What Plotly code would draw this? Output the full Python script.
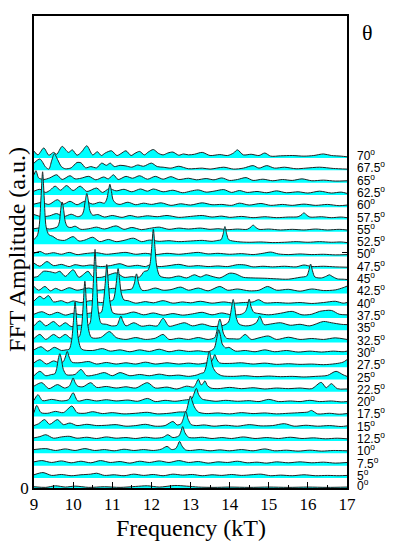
import plotly.graph_objects as go

# angle of each spectrum (deg) and its FFT spectrum as (frequency kT, amplitude a.u.)
angles = [70, 67.5, 65, 62.5, 60, 57.5, 55, 52.5, 50, 47.5, 45, 42.5, 40,
          37.5, 35, 32.5, 30, 27.5, 25, 22.5, 20, 17.5, 15, 12.5, 10, 7.5, 5, 0]

th70 = [(9.0,2.2),(9.1,1.0),(9.25,3.2),(9.38,0.9),(9.5,1.8),(9.58,1.2),(9.72,3.7),(9.88,1.8),(9.98,2.6),(10.1,0.9),
        (10.22,2.0),(10.35,3.9),(10.5,1.0),(10.62,2.0),(10.72,0.8),(10.82,1.6),(10.98,2.3),(11.12,0.8),(11.22,1.4),
        (11.35,2.3),(11.48,0.8),(11.58,1.5),(11.7,2.1),(11.82,1.0),(11.92,1.9),(12.05,2.7),(12.18,1.5),(12.3,1.0),
        (12.42,1.6),(12.55,1.9),(12.7,0.9),(12.82,1.3),(12.95,1.0),(13.1,1.2),(13.3,1.8),(13.5,0.8),(13.75,1.1),
        (13.95,0.8),(14.1,1.6),(14.2,2.6),(14.35,1.0),(14.55,1.2),(14.75,0.8),(14.9,1.6),(15.05,0.6),(15.3,0.7),
        (15.6,0.8),(15.9,0.6),(16.15,0.8),(16.4,1.3),(16.6,0.8),(16.85,0.6),(17.0,0.4)]
th67_5 = [(9.0,2.3),(9.15,3.6),(9.3,1.0),(9.38,0.4),(9.45,3.0),(9.52,5.3),(9.6,3.5),(9.7,1.2),(9.8,0.5),(9.95,0.8),
          (10.1,2.5),(10.2,2.4),(10.32,0.8),(10.45,1.2),(10.6,0.8),(10.73,2.3),(10.85,1.6),(10.95,2.3),(11.05,1.2),
          (11.2,1.6),(11.35,1.4),(11.5,1.0),(11.65,1.7),(11.8,1.3),(12.0,2.3),(12.15,1.2),(12.3,1.0),(12.5,0.7),
          (12.7,1.3),(12.95,0.5),(13.3,0.7),(13.5,0.4),(13.85,1.0),(14.1,0.4),(14.35,0.7),(14.6,1.5),(14.75,0.7),
          (14.95,1.5),(15.15,0.7),(15.4,1.0),(15.7,0.5),(15.95,0.7),(16.3,1.0),(16.65,0.6),(17.0,0.4)]
th65 = [(9.0,2.5),(9.05,3.8),(9.12,1.5),(9.25,1.0),(9.4,1.5),(9.58,2.5),(9.72,1.0),(9.92,2.2),(10.05,1.2),(10.2,1.4),
        (10.4,2.0),(10.58,0.9),(10.78,1.8),(10.9,1.2),(11.03,2.5),(11.15,1.0),(11.35,2.0),(11.52,1.4),(11.7,2.2),
        (11.9,1.1),(12.1,2.0),(12.3,1.1),(12.5,1.9),(12.7,1.0),(12.95,1.4),(13.15,0.9),(13.4,1.3),(13.6,0.9),
        (13.8,1.5),(14.0,0.7),(14.2,1.0),(14.42,1.6),(14.6,0.7),(14.85,1.1),(15.1,0.6),(15.35,1.0),(15.6,0.7),
        (15.85,1.2),(16.1,0.6),(16.4,0.8),(16.7,0.5),(17.0,0.6)]
th62_5 = [(9.0,1.2),(9.15,1.8),(9.3,0.8),(9.42,1.6),(9.54,2.8),(9.68,1.5),(9.83,3.0),(10.0,1.4),(10.18,2.8),(10.35,1.1),
          (10.6,2.2),(10.75,0.8),(10.92,2.0),(11.1,1.3),(11.3,1.8),(11.5,1.0),(11.72,1.9),(11.9,1.2),(12.05,1.9),
          (12.3,1.0),(12.55,1.5),(12.8,0.7),(13.0,1.2),(13.2,1.6),(13.4,0.9),(13.6,1.2),(13.85,1.7),(14.05,0.8),
          (14.25,1.4),(14.45,0.8),(14.7,1.1),(14.95,0.7),(15.2,1.3),(15.45,0.7),(15.75,1.0),(16.0,0.6),(16.3,1.2),
          (16.6,0.6),(16.85,0.9),(17.0,0.5)]
th60 = [(9.0,1.0),(9.2,1.5),(9.38,0.9),(9.6,2.4),(9.75,1.0),(9.92,1.9),(10.1,0.8),(10.3,1.9),(10.5,1.0),(10.68,1.6),
        (10.8,1.3),(10.86,2.6),(10.9,5.0),(10.94,7.3),(10.98,5.0),(11.02,2.4),(11.1,1.2),(11.2,0.9),(11.4,1.6),
        (11.6,0.8),(11.8,1.3),(12.0,0.9),(12.25,1.4),(12.5,0.6),(12.75,1.1),(13.0,0.7),(13.3,1.4),(13.55,0.8),
        (13.8,0.9),(14.05,0.6),(14.25,1.3),(14.5,0.7),(14.8,1.2),(15.05,0.6),(15.35,0.9),(15.6,0.6),(15.9,1.0),
        (16.2,0.6),(16.5,0.9),(16.8,0.5),(17.0,0.7)]
th57_5 = [(9.0,1.6),(9.2,0.9),(9.4,1.2),(9.58,1.9),(9.75,0.9),(9.95,1.7),(10.12,0.9),(10.22,1.4),(10.27,2.8),
          (10.31,6.0),(10.35,8.3),(10.39,6.0),(10.43,2.8),(10.5,1.4),(10.63,1.6),(10.8,0.8),(11.0,1.3),(11.25,0.7),
          (11.45,1.3),(11.65,0.8),(11.9,1.2),(12.15,0.9),(12.4,1.3),(12.7,0.7),(13.0,1.0),(13.3,1.3),(13.55,0.8),
          (13.8,1.1),(14.0,0.7),(14.3,1.0),(14.6,0.6),(14.9,0.9),(15.2,0.6),(15.5,0.8),(15.75,0.9),(15.85,1.6),
          (15.9,2.2),(15.96,1.5),(16.05,0.8),(16.35,0.9),(16.6,0.6),(16.85,0.8),(17.0,0.6)]
th55 = [(9.0,1.0),(9.2,1.3),(9.4,0.9),(9.52,1.2),(9.6,1.6),(9.65,3.2),(9.68,6.8),(9.72,9.5),(9.76,6.8),(9.8,3.2),
        (9.86,1.6),(9.95,1.4),(10.05,1.8),(10.2,0.8),(10.4,1.0),(10.6,1.5),(10.8,0.9),(11.1,1.9),(11.3,0.8),
        (11.5,1.4),(11.75,0.7),(11.95,1.1),(12.2,1.5),(12.45,0.8),(12.7,1.2),(12.95,0.9),(13.25,1.2),(13.5,0.8),
        (13.7,1.0),(13.95,0.7),(14.2,0.9),(14.45,0.8),(14.55,1.6),(14.6,2.2),(14.66,1.5),(14.75,0.8),(15.0,0.9),
        (15.3,0.6),(15.6,0.8),(15.9,0.6),(16.2,0.9),(16.5,0.6),(16.8,0.8),(17.0,0.6)]
th52_5 = [(9.0,1.5),(9.08,2.6),(9.13,5.5),(9.18,15.0),(9.22,23.0),(9.26,15.0),(9.31,5.5),(9.38,3.0),(9.48,2.5),
          (9.6,1.5),(9.78,1.2),(10.0,2.4),(10.15,1.0),(10.3,1.3),(10.5,2.2),(10.68,0.8),(10.9,1.5),(11.1,0.8),
          (11.3,1.2),(11.54,1.9),(11.75,0.8),(11.95,1.3),(12.2,0.9),(12.45,1.1),(12.7,0.8),(13.0,1.0),(13.3,1.2),
          (13.55,0.9),(13.7,1.2),(13.78,1.4),(13.83,3.0),(13.88,5.6),(13.93,3.0),(13.98,1.4),(14.2,0.8),(14.5,0.6),
          (14.8,0.7),(15.1,0.5),(15.4,0.6),(15.7,0.8),(16.0,0.6),(16.3,0.8),(16.6,0.6),(16.85,0.7),(17.0,0.5)]
th50 = [(9.0,1.0),(9.15,1.6),(9.3,0.8),(9.5,1.2),(9.7,0.7),(9.9,1.3),(10.1,0.6),(10.3,0.9),(10.6,1.2),(10.85,0.7),
        (11.1,1.0),(11.35,1.3),(11.6,0.7),(11.85,1.0),(12.1,0.6),(12.4,1.0),(12.7,0.7),(12.95,1.0),(13.2,1.3),
        (13.45,0.8),(13.7,1.0),(14.0,0.7),(14.3,0.9),(14.6,0.6),(14.85,1.0),(15.05,1.4),(15.25,0.8),(15.5,0.6),
        (15.8,0.8),(16.1,0.6),(16.4,0.7),(16.7,0.5),(17.0,0.6)]
th47_5 = [(9.0,1.8),(9.15,0.8),(9.33,2.3),(9.5,1.0),(9.7,1.4),(9.9,0.7),(10.05,1.3),(10.25,0.9),(10.45,1.2),(10.7,0.7),
          (10.95,1.0),(11.2,1.6),(11.4,0.8),(11.65,1.1),(11.85,0.7),(11.98,1.3),(12.2,0.7),(12.45,1.0),(12.7,1.4),
          (12.95,0.8),(13.2,1.0),(13.45,0.7),(13.7,0.9),(13.95,0.7),(14.2,1.3),(14.4,1.2),(14.6,0.6),(14.85,0.8),
          (15.1,0.6),(15.4,0.8),(15.7,0.6),(15.9,1.2),(16.1,0.7),(16.4,0.8),(16.7,0.6),(17.0,0.5)]
th45 = [(9.0,1.2),(9.1,1.5),(9.24,3.1),(9.4,3.0),(9.55,2.6),(9.66,3.1),(9.8,1.5),(10.0,3.6),(10.15,1.2),(10.38,3.1),
        (10.5,1.4),(10.72,1.2),(10.9,1.9),(11.1,2.6),(11.3,1.2),(11.5,1.4),(11.7,1.3),(11.82,3.1),(11.9,3.3),
        (11.96,5.0),(12.01,11.0),(12.05,16.5),(12.09,11.0),(12.14,4.5),(12.22,1.6),(12.45,1.0),(12.7,1.6),(12.9,1.0),
        (13.1,2.0),(13.25,1.3),(13.4,2.0),(13.55,1.5),(13.75,1.0),(14.0,2.5),(14.15,2.3),(14.35,1.2),(14.6,1.0),
        (14.9,0.9),(15.2,0.7),(15.5,0.6),(15.8,1.2),(15.97,1.6),(16.02,3.2),(16.07,5.4),(16.12,3.2),(16.18,1.3),
        (16.35,1.0),(16.48,1.6),(16.55,2.0),(16.62,1.5),(16.75,0.7),(16.9,0.6),(17.0,0.5)]
th42_5 = [(9.0,2.2),(9.12,1.0),(9.28,2.2),(9.42,0.8),(9.55,1.6),(9.7,0.9),(9.9,1.8),(10.1,1.0),(10.4,1.7),(10.6,1.0),
          (10.85,1.3),(11.05,1.6),(11.25,1.0),(11.4,1.2),(11.5,1.4),(11.56,3.0),(11.62,6.2),(11.68,3.0),(11.76,1.0),
          (11.9,1.0),(12.1,1.7),(12.3,1.0),(12.5,1.2),(12.75,2.0),(12.95,1.0),(13.2,1.7),(13.45,0.8),(13.75,2.2),
          (13.95,1.0),(14.2,1.4),(14.5,0.8),(14.75,1.0),(14.97,2.2),(15.2,1.0),(15.5,1.3),(15.8,0.7),(16.1,1.4),
          (16.4,0.9),(16.7,1.1),(16.9,1.8),(17.0,2.3)]
th40 = [(9.0,1.5),(9.15,3.0),(9.25,2.2),(9.37,3.2),(9.5,1.2),(9.7,1.6),(9.85,0.9),(10.0,1.5),(10.2,1.0),(10.45,1.6),
        (10.7,1.0),(10.92,1.4),(11.02,1.8),(11.07,4.0),(11.11,8.0),(11.15,11.8),(11.19,8.0),(11.23,4.0),(11.3,1.8),
        (11.4,1.6),(11.6,0.8),(11.85,1.3),(12.05,0.9),(12.3,1.6),(12.55,0.8),(12.8,1.2),(13.0,0.9),(13.25,1.4),
        (13.55,0.8),(13.85,1.2),(14.1,0.8),(14.35,1.0),(14.6,1.2),(14.74,1.9),(14.9,0.9),(15.2,1.0),(15.5,0.8),
        (15.8,1.0),(16.1,0.7),(16.4,1.0),(16.7,1.4),(16.9,0.8),(17.0,1.0)]
th37_5 = [(9.0,1.2),(9.2,2.0),(9.4,1.0),(9.6,1.8),(9.8,0.9),(10.0,1.5),(10.2,1.0),(10.45,1.6),(10.62,1.5),(10.72,1.8),
          (10.77,4.5),(10.82,11.0),(10.86,17.0),(10.9,11.0),(10.95,4.5),(11.02,1.6),(11.3,1.2),(11.55,1.9),(11.8,1.0),
          (12.05,1.6),(12.3,0.9),(12.55,1.4),(12.8,0.9),(13.05,1.3),(13.3,1.8),(13.55,1.0),(13.8,1.6),(14.05,1.0),
          (14.3,1.2),(14.4,2.0),(14.45,3.5),(14.5,6.0),(14.55,3.5),(14.62,1.8),(14.75,1.4),(15.0,1.0),(15.3,1.5),
          (15.6,2.1),(15.85,1.0),(16.1,1.2),(16.3,2.1),(16.6,2.4),(16.8,1.2),(17.0,1.0)]
th35 = [(9.0,1.4),(9.15,3.0),(9.3,1.4),(9.5,2.8),(9.65,1.3),(9.8,2.4),(9.95,1.2),(10.15,1.6),(10.32,1.4),(10.42,2.0),
        (10.47,5.5),(10.52,16.0),(10.56,25.7),(10.6,16.0),(10.65,5.5),(10.72,2.2),(10.85,1.9),(10.98,1.4),
        (11.12,1.6),(11.17,3.0),(11.22,4.5),(11.27,3.0),(11.35,1.4),(11.55,2.4),(11.75,1.3),(11.95,1.6),(12.15,1.4),
        (12.3,3.8),(12.45,1.3),(12.65,1.8),(12.85,2.4),(13.05,1.4),(13.3,2.0),(13.55,1.2),(13.85,1.6),(13.97,2.6),
        (14.02,5.0),(14.06,8.0),(14.09,9.8),(14.13,7.5),(14.17,4.0),(14.24,2.0),(14.4,1.4),(14.55,1.6),(14.68,2.4),
        (14.73,3.5),(14.77,4.5),(14.82,3.2),(14.88,1.8),(15.05,2.0),(15.3,2.4),(15.55,1.6),(15.8,1.9),(16.05,1.4),
        (16.4,2.8),(16.6,2.4),(16.85,1.9),(17.0,1.8)]
th32_5 = [(9.0,1.3),(9.15,2.6),(9.3,1.0),(9.5,2.6),(9.65,1.5),(9.8,2.6),(9.95,1.3),(10.15,1.8),(10.21,4.5),
          (10.26,12.5),(10.3,19.5),(10.34,12.5),(10.39,4.5),(10.47,1.6),(10.7,1.6),(10.93,3.5),(11.1,1.6),(11.35,1.0),
          (11.6,1.6),(11.85,1.0),(12.1,1.4),(12.3,2.6),(12.45,1.0),(12.7,1.4),(12.95,1.0),(13.2,1.6),(13.45,1.0),
          (13.62,1.6),(13.67,3.5),(13.71,6.0),(13.75,7.5),(13.79,6.0),(13.84,3.0),(13.92,1.4),(14.1,1.2),(14.25,1.2),
          (14.4,2.6),(14.55,1.0),(14.75,1.5),(14.99,2.1),(15.2,1.0),(15.5,1.7),(15.8,1.0),(16.1,1.3),(16.4,1.0),
          (16.7,1.5),(17.0,1.0)]
th30 = [(9.0,1.6),(9.18,2.6),(9.35,1.2),(9.52,2.4),(9.7,1.4),(9.82,1.6),(9.9,1.8),(9.96,4.5),(10.01,11.0),
        (10.05,16.8),(10.09,11.0),(10.14,4.5),(10.22,1.8),(10.5,1.4),(10.75,2.0),(10.95,1.2),(11.2,1.6),(11.45,1.0),
        (11.7,1.6),(11.95,1.1),(12.2,1.8),(12.45,1.0),(12.7,1.5),(12.95,1.1),(13.2,1.3),(13.45,1.0),(13.6,2.0),
        (13.65,4.0),(13.69,6.5),(13.72,8.0),(13.76,6.5),(13.81,3.5),(13.9,2.2),(13.98,2.4),(14.15,1.2),(14.4,1.4),
        (14.65,1.0),(14.9,1.6),(15.15,1.0),(15.45,1.4),(15.75,0.9),(16.05,1.2),(16.35,0.9),(16.65,1.2),(16.9,1.0),
        (17.0,1.2)]
th27_5 = [(9.0,1.4),(9.15,2.4),(9.32,1.0),(9.5,2.0),(9.65,1.4),(9.75,1.8),(9.8,3.2),(9.85,5.0),(9.9,3.2),(9.97,1.6),
          (10.15,1.4),(10.4,1.8),(10.6,1.0),(10.85,1.5),(11.1,1.0),(11.35,1.4),(11.6,1.0),(11.85,1.6),(12.1,1.0),
          (12.4,1.4),(12.7,1.0),(12.95,1.3),(13.2,1.0),(13.42,1.4),(13.52,1.6),(13.57,2.6),(13.62,4.0),(13.67,2.6),
          (13.74,1.4),(14.0,1.2),(14.3,1.4),(14.6,1.0),(14.9,1.3),(15.2,0.9),(15.5,1.1),(15.8,0.9),(16.1,1.0),
          (16.4,0.8),(16.7,1.1),(16.9,1.6),(17.0,2.4)]
th25 = [(9.0,1.2),(9.15,2.6),(9.3,1.2),(9.45,1.6),(9.53,1.8),(9.58,3.5),(9.62,6.5),(9.66,8.2),(9.7,6.5),(9.75,3.2),
        (9.83,1.5),(9.92,1.4),(10.05,1.6),(10.2,3.2),(10.35,1.2),(10.6,1.6),(10.8,2.2),(11.0,1.2),(11.2,2.2),
        (11.45,1.2),(11.7,1.6),(11.95,1.2),(12.2,1.7),(12.45,1.2),(12.7,1.4),(12.95,1.0),(13.15,1.4),(13.28,2.0),
        (13.34,2.2),(13.4,4.2),(13.44,7.0),(13.48,9.0),(13.52,7.0),(13.57,4.0),(13.66,2.2),(13.8,1.2),(14.1,1.0),
        (14.4,1.2),(14.7,0.9),(15.0,1.1),(15.3,0.9),(15.6,1.0),(15.9,0.8),(16.2,1.0),(16.5,1.3),(16.72,2.6),
        (16.9,1.5),(17.0,1.0)]
th22_5 = [(9.0,1.8),(9.2,2.9),(9.38,1.0),(9.6,2.3),(9.78,1.2),(9.9,1.8),(9.95,3.0),(10.0,4.4),(10.05,3.0),(10.12,1.8),
          (10.25,1.6),(10.45,2.9),(10.6,1.4),(10.85,1.7),(11.1,1.2),(11.35,1.6),(11.6,1.2),(11.9,2.9),(12.1,1.2),
          (12.4,1.5),(12.65,0.9),(12.9,1.8),(13.08,1.5),(13.14,2.6),(13.2,4.0),(13.27,2.2),(13.32,2.6),(13.37,3.5),
          (13.43,2.0),(13.52,1.2),(13.7,1.0),(14.0,1.4),(14.3,1.0),(14.6,1.3),(14.9,0.9),(15.2,1.2),(15.5,1.0),
          (15.8,1.2),(16.1,1.0),(16.34,3.0),(16.47,1.3),(16.6,2.6),(16.75,1.0),(17.0,0.9)]
th20 = [(9.0,1.2),(9.1,3.0),(9.22,1.1),(9.45,1.5),(9.7,1.0),(9.88,1.4),(10.0,3.6),(10.12,1.0),(10.35,1.5),(10.6,1.0),
        (10.85,1.4),(11.1,1.0),(11.4,1.3),(11.65,0.9),(11.9,1.8),(12.1,0.8),(12.35,1.2),(12.6,0.9),(12.85,1.3),
        (13.03,1.7),(13.08,3.0),(13.15,5.0),(13.21,3.0),(13.3,1.6),(13.45,1.2),(13.65,0.9),(13.9,1.2),(14.2,0.9),
        (14.5,1.1),(14.75,0.8),(15.0,1.5),(15.25,0.8),(15.55,1.0),(15.8,0.8),(16.05,1.2),(16.3,0.8),(16.6,1.0),
        (16.85,0.7),(17.0,0.8)]
th17_5 = [(9.0,1.2),(9.07,3.5),(9.18,1.2),(9.35,1.0),(9.55,1.6),(9.75,1.2),(9.97,3.3),(10.1,1.2),(10.3,1.0),(10.5,1.5),
          (10.75,0.9),(11.0,1.2),(11.3,0.8),(11.6,1.0),(11.9,1.3),(12.15,0.8),(12.45,1.0),(12.7,1.4),(12.88,1.6),
          (12.93,3.5),(12.97,5.5),(13.0,6.5),(13.04,5.0),(13.1,3.0),(13.2,1.4),(13.4,0.9),(13.7,1.1),(14.0,0.8),
          (14.3,1.2),(14.6,0.9),(14.9,1.1),(15.2,0.8),(15.5,1.0),(15.8,1.2),(16.0,1.4),(16.09,1.9),(16.25,0.8),
          (16.55,1.0),(16.8,0.7),(17.0,0.9)]
th15 = [(9.0,1.0),(9.12,1.6),(9.27,2.9),(9.4,1.4),(9.6,2.9),(9.75,1.3),(9.92,1.8),(10.1,1.0),(10.35,1.4),(10.6,1.0),
        (10.85,1.1),(11.1,1.3),(11.35,0.8),(11.6,1.0),(11.85,1.4),(12.1,0.8),(12.35,1.0),(12.55,2.3),(12.66,1.2),
        (12.76,1.6),(12.81,3.0),(12.88,5.5),(12.94,3.0),(13.02,1.3),(13.15,1.0),(13.35,1.2),(13.6,0.8),(13.9,1.1),
        (14.2,0.8),(14.5,1.3),(14.8,0.9),(15.1,1.0),(15.4,1.6),(15.65,0.8),(15.95,1.1),(16.25,0.8),(16.55,1.0),
        (16.85,0.7),(17.0,0.9)]
th12_5 = [(9.0,1.0),(9.15,1.4),(9.3,2.0),(9.5,0.9),(9.7,1.3),(9.9,1.5),(10.1,0.9),(10.35,1.2),(10.6,0.8),(10.85,1.3),
          (11.1,0.9),(11.35,1.1),(11.6,0.8),(11.85,1.2),(12.1,0.9),(12.3,1.2),(12.42,2.0),(12.55,1.1),(12.7,1.6),
          (12.75,2.8),(12.8,4.6),(12.86,2.6),(12.95,1.2),(13.1,1.0),(13.3,1.2),(13.55,0.8),(13.8,1.1),(14.05,0.8),
          (14.35,1.3),(14.65,0.8),(14.95,1.1),(15.25,0.8),(15.55,1.2),(15.85,0.8),(16.15,1.0),(16.45,0.7),
          (16.75,0.9),(17.0,0.7)]
th10 = [(9.0,1.2),(9.3,1.5),(9.55,0.9),(9.8,1.4),(10.05,0.9),(10.3,1.5),(10.55,0.9),(10.8,1.2),(11.05,0.8),(11.3,1.3),
        (11.55,0.9),(11.8,1.2),(12.05,0.9),(12.25,1.3),(12.4,2.2),(12.52,1.2),(12.62,1.5),(12.67,2.5),(12.72,3.8),
        (12.78,2.4),(12.87,1.1),(13.0,0.9),(13.25,1.2),(13.5,0.8),(13.75,1.1),(14.0,0.8),(14.3,1.2),(14.6,0.8),
        (14.9,1.4),(15.15,0.8),(15.45,1.0),(15.75,0.7),(16.05,1.0),(16.35,0.7),(16.65,0.9),(17.0,0.8)]
th7_5 = [(9.0,1.2),(9.2,1.6),(9.45,1.0),(9.7,1.5),(9.95,0.9),(10.2,1.4),(10.45,0.9),(10.7,1.6),(10.95,1.0),(11.2,1.3),
         (11.45,0.8),(11.7,1.4),(11.95,1.0),(12.2,1.5),(12.45,1.0),(12.7,1.6),(12.95,1.0),(13.2,1.3),(13.45,0.8),
         (13.7,1.2),(13.95,1.0),(14.2,1.4),(14.45,0.9),(14.7,1.1),(14.95,0.8),(15.2,1.2),(15.5,0.9),(15.8,1.2),
         (16.1,0.9),(16.4,1.1),(16.7,0.8),(17.0,1.0)]
th5 = [(9.0,1.0),(9.23,1.7),(9.45,0.8),(9.7,1.1),(9.95,0.7),(10.2,1.0),(10.45,1.2),(10.6,1.5),(10.8,0.8),(11.05,1.0),
       (11.3,0.7),(11.55,1.2),(11.8,0.8),(12.05,1.1),(12.3,0.7),(12.55,1.2),(12.8,0.9),(13.05,1.1),(13.3,0.7),
       (13.55,1.0),(13.8,0.8),(14.05,1.1),(14.3,0.8),(14.55,1.0),(14.8,1.2),(15.05,0.7),(15.3,0.9),(15.6,0.7),
       (15.9,1.0),(16.2,0.7),(16.5,0.8),(16.8,0.7),(17.0,0.8)]
th0 = [(9.0,0.4),(9.3,0.2),(9.55,0.7),(9.8,0.3),(10.05,0.6),(10.4,0.2),(10.8,0.4),(11.2,0.2),(11.6,0.5),(11.9,0.7),
       (12.2,0.3),(12.6,0.8),(12.9,0.6),(13.2,0.3),(13.6,0.2),(14.0,0.3),(14.5,0.2),(15.0,0.3),(15.5,0.2),(16.0,0.3),
       (16.5,0.2),(17.0,0.3)]

spectra = [th70, th67_5, th65, th62_5, th60, th57_5, th55, th52_5, th50, th47_5, th45, th42_5, th40,
           th37_5, th35, th32_5, th30, th27_5, th25, th22_5, th20, th17_5, th15, th12_5, th10, th7_5, th5, th0]

CYAN = "#00ffff"
SERIF = "Liberation Serif"
SANS = "Liberation Sans"

fig = go.Figure()
annotations = []

# highest angle first so the lower spectra sit on top of the ones above
for theta, spec in zip(angles, spectra):
    off = 0.0 if theta == 0 else 1.564 * theta - 4.62
    xs = [p[0] for p in spec]
    ys = [off + p[1] for p in spec]
    fig.add_trace(go.Scatter(x=[9, 17], y=[off, off], mode="lines",
                             line=dict(width=0, color=CYAN),
                             hoverinfo="skip", showlegend=False))
    fig.add_trace(go.Scatter(x=xs, y=ys, mode="lines", fill="tonexty", fillcolor=CYAN,
                             line=dict(color="#222222", width=1, shape="spline", smoothing=0.8),
                             showlegend=False))
    lab = ("%g" % theta) + "<sup>o</sup>"
    annotations.append(dict(x=1.027, xref="paper", y=off, yref="y", yshift=3,
                            text=lab, showarrow=False, xanchor="left", yanchor="middle",
                            font=dict(family=SANS, size=12, color="black")))

annotations.append(dict(x=1.064, xref="paper", y=0.965, yref="paper", text="θ",
                        showarrow=False, xanchor="center", yanchor="middle",
                        font=dict(family=SERIF, size=22, color="black")))
annotations.append(dict(x=0.5, xref="paper", y=-0.085, yref="paper", text="Frequency (kT)",
                        showarrow=False, xanchor="center", yanchor="middle",
                        font=dict(family=SERIF, size=24, color="black")))
annotations.append(dict(x=-0.055, xref="paper", y=0.506, yref="paper", text="FFT Amplitude (a.u.)",
                        textangle=-90, showarrow=False, xanchor="center", yanchor="middle",
                        font=dict(family=SERIF, size=24, color="black")))

# page body adds an 8px margin, so the figure is 8px smaller and margins shifted
fig.update_layout(
    width=387, height=537,
    margin=dict(l=26, r=48, t=8, b=57),
    paper_bgcolor="white", plot_bgcolor="white",
    annotations=annotations,
    xaxis=dict(range=[9, 17], tickvals=list(range(9, 18)), ticks="inside", ticklen=6,
               tickcolor="black", minor=dict(dtick=0.5, ticks="inside", ticklen=3, tickcolor="black"),
               showgrid=False, zeroline=False, showline=True, mirror=True, automargin=False,
               linecolor="black", linewidth=1.5,
               tickfont=dict(family=SERIF, size=17, color="black")),
    yaxis=dict(range=[0, 150], tickvals=[0, 75, 150], ticktext=["0", "", "150"],
               ticks="inside", ticklen=5, tickcolor="black", automargin=False,
               showgrid=False, zeroline=False, showline=True, mirror="ticks",
               linecolor="black", linewidth=1.5,
               tickfont=dict(family=SERIF, size=17, color="black")),
)

fig.write_html("out.html")
